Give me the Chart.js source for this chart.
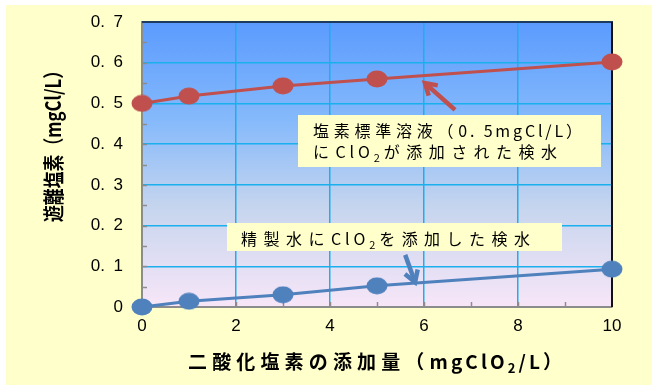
<!DOCTYPE html>
<html lang="ja">
<head>
<meta charset="utf-8">
<title>二酸化塩素の添加量と遊離塩素</title>
<script src="https://cdn.jsdelivr.net/npm/chart.js@4/dist/chart.umd.min.js"></script>
<style>
  html, body { margin: 0; padding: 0; background: #ffffff; }
  #wrap { width: 652px; height: 385px; position: relative; }
</style>
</head>
<body>
<div id="wrap"><canvas id="chart"></canvas></div>
<script>
// ClO2 dose (mgClO2/L)
const doseX = [0, 1, 3, 5, 10];
// Free chlorine measured in chlorine standard solution (0.5 mgCl/L)
const standardSeries = [0.5, 0.518, 0.543, 0.56, 0.602];
// Free chlorine measured in purified water
const pureSeries = [0, 0.014, 0.03, 0.052, 0.093];
// Axis tick labels
const yTickLabels = ['0', '0.\u20021', '0.\u20022', '0.\u20023', '0.\u20024', '0.\u20025', '0.\u20026', '0.\u20027'];
const xTickLabels = ['0', '2', '4', '6', '8', '10'];

const RED = '#C0504D';
const BLUE = '#4F81BD';
const JP = '"Noto Sans CJK JP", "Noto Sans", sans-serif';

// Elliptical marker used for both series
function ellipseMarker(color) {
  const c = document.createElement('canvas');
  c.width = 22; c.height = 18;
  const g = c.getContext('2d');
  g.fillStyle = color;
  g.beginPath();
  g.ellipse(11, 9, 10.5, 8.5, 0, 0, Math.PI * 2);
  g.fill();
  return c;
}

// Draws a run of text segments (with optional subscripts), stretched to a given width.
// Full-width characters take most of the extra spacing, Latin characters a smaller share.
function drawRich(ctx, segs, x, y, size, weight, targetWidth) {
  const chars = [];
  segs.forEach(s => {
    for (const ch of s.t) chars.push({ ch, sub: !!s.sub });
  });
  const fontFor = sub => `${weight} ${sub ? Math.round(size * 0.68) : size}px ${JP}`;
  let natural = 0, wsum = 0;
  chars.forEach((c, i) => {
    ctx.font = fontFor(c.sub);
    c.w = ctx.measureText(c.ch).width;
    natural += c.w;
    c.k = i === chars.length - 1 ? 0 : (c.ch.charCodeAt(0) > 0x2000 ? 1 : 0.6);
    wsum += c.k;
  });
  let sx = 1, gap = 0;
  if (natural > targetWidth) sx = targetWidth / natural;
  else if (wsum > 0) gap = (targetWidth - natural) / wsum;
  ctx.save();
  ctx.translate(x, y);
  ctx.scale(sx, 1);
  ctx.textBaseline = 'alphabetic';
  ctx.textAlign = 'left';
  ctx.fillStyle = '#000';
  let cx = 0;
  chars.forEach(c => {
    ctx.font = fontFor(c.sub);
    ctx.fillText(c.ch, cx, c.sub ? size * 0.22 : 0);
    cx += c.w + c.k * gap / sx;
  });
  ctx.restore();
}

function drawArrow(ctx, x1, y1, x2, y2, color) {
  const ang = Math.atan2(y2 - y1, x2 - x1);
  const head = 13;
  ctx.save();
  ctx.strokeStyle = color;
  ctx.lineWidth = 4.5;
  ctx.lineCap = 'butt';
  ctx.lineJoin = 'miter';
  ctx.beginPath();
  ctx.moveTo(x1, y1);
  ctx.lineTo(x2, y2);
  ctx.stroke();
  ctx.beginPath();
  ctx.moveTo(x2 - head * Math.cos(ang - 0.55), y2 - head * Math.sin(ang - 0.55));
  ctx.lineTo(x2, y2);
  ctx.lineTo(x2 - head * Math.cos(ang + 0.55), y2 - head * Math.sin(ang + 0.55));
  ctx.stroke();
  ctx.restore();
}

const decor = {
  id: 'decor',
  beforeDraw(chart) {
    const { ctx, chartArea: a } = chart;
    ctx.save();
    ctx.fillStyle = '#FFFFCC';
    ctx.fillRect(6, 5, 652 - 6, 385 - 5);
    const g = ctx.createLinearGradient(0, a.top, 0, a.bottom);
    g.addColorStop(0, '#5B9BFE');
    g.addColorStop(0.35, '#86BAFB');
    g.addColorStop(0.65, '#C6D5EE');
    g.addColorStop(1, '#F8E6F8');
    ctx.fillStyle = g;
    ctx.fillRect(a.left, a.top, a.right - a.left, a.bottom - a.top);
    ctx.restore();
  },
  beforeDatasetsDraw(chart) {
    const { ctx, chartArea: a, scales: { x, y } } = chart;
    ctx.save();
    // plot frame: top and right edges
    ctx.strokeStyle = '#1F3A60';
    ctx.lineWidth = 2;
    ctx.beginPath(); ctx.moveTo(a.left, a.top); ctx.lineTo(a.right + 1, a.top); ctx.stroke();
    ctx.strokeStyle = '#111111';
    ctx.beginPath(); ctx.moveTo(a.right, a.top); ctx.lineTo(a.right, a.bottom); ctx.stroke();
    // inner minor ticks
    ctx.strokeStyle = '#8C8C8C';
    ctx.lineWidth = 1.5;
    for (let v = 0.05; v < 0.7; v += 0.05) {
      const py = Math.round(y.getPixelForValue(v)) + 0.5;
      ctx.beginPath(); ctx.moveTo(a.left, py); ctx.lineTo(a.left + 5, py); ctx.stroke();
    }
    for (let v = 1; v < 10; v += 1) {
      const px = Math.round(x.getPixelForValue(v)) + 0.5;
      ctx.beginPath(); ctx.moveTo(px, a.bottom); ctx.lineTo(px, a.bottom - 5); ctx.stroke();
    }
    ctx.restore();
  },
  afterDraw(chart) {
    const { ctx, scales: { x, y } } = chart;
    // axis titles
    drawRich(ctx, [{ t: '二酸化塩素の添加量（mgClO' }, { t: '2', sub: true }, { t: '/L）' }],
      188, 369, 19, 'bold', 374);
    ctx.save();
    ctx.translate(61, 222);
    ctx.rotate(-Math.PI / 2);
    drawRich(ctx, [{ t: '遊離塩素（mgCl/L）' }], 0, 0, 21, 'bold', 160);
    ctx.restore();

    // callout boxes
    ctx.save();
    ctx.fillStyle = '#FFFFCC';
    ctx.fillRect(298, 115, 303, 52);
    ctx.fillRect(227, 223, 335, 28);
    ctx.restore();
    drawRich(ctx, [{ t: '塩素標準溶液（0. 5mgCl/L）' }], 313, 137, 16, 'normal', 269);
    drawRich(ctx, [{ t: 'にClO' }, { t: '2', sub: true }, { t: 'が添加された検水' }], 313, 158, 16, 'normal', 244);
    drawRich(ctx, [{ t: '精製水にClO' }, { t: '2', sub: true }, { t: 'を添加した検水' }], 241, 245, 16, 'normal', 289);

    drawArrow(ctx, x.getPixelForValue(6.66), y.getPixelForValue(0.484),
      x.getPixelForValue(6.02), y.getPixelForValue(0.55), RED);
    drawArrow(ctx, x.getPixelForValue(5.6), y.getPixelForValue(0.128),
      x.getPixelForValue(5.81), y.getPixelForValue(0.061), BLUE);
  }
};

const toPoints = ys => doseX.map((d, i) => ({ x: d, y: ys[i] }));

new Chart(document.getElementById('chart'), {
  type: 'scatter',
  data: {
    datasets: [
      {
        label: '塩素標準溶液（0.5mgCl/L）にClO2が添加された検水',
        data: toPoints(standardSeries),
        showLine: true,
        borderColor: RED,
        borderWidth: 3,
        pointStyle: ellipseMarker(RED),
        clip: false
      },
      {
        label: '精製水にClO2を添加した検水',
        data: toPoints(pureSeries),
        showLine: true,
        borderColor: BLUE,
        borderWidth: 3,
        pointStyle: ellipseMarker(BLUE),
        clip: false
      }
    ]
  },
  options: {
    responsive: true,
    maintainAspectRatio: false,
    animation: false,
    devicePixelRatio: 1,
    layout: { padding: { top: 22, right: 40, left: 0, bottom: 0 } },
    plugins: { legend: { display: false }, tooltip: { enabled: false } },
    scales: {
      x: {
        type: 'linear',
        min: 0, max: 10,
        afterFit(s) { s.height = 78; s.paddingLeft = 0; s.paddingRight = 0; },
        ticks: {
          stepSize: 2,
          padding: 9,
          color: '#000',
          font: { family: '"Liberation Sans", sans-serif', size: 17 },
          maxRotation: 0,
          callback: (v, i) => xTickLabels[i]
        },
        grid: {
          drawTicks: false,
          lineWidth: 1.5,
          color: c => (c.index === 0 || c.index === xTickLabels.length - 1) ? 'rgba(0,0,0,0)' : '#1AB0EE'
        },
        border: { color: '#8C8C8C', width: 2 }
      },
      y: {
        min: 0, max: 0.7,
        afterFit(s) { s.width = 142; s.paddingTop = 0; s.paddingBottom = 0; },
        ticks: {
          stepSize: 0.1,
          padding: 19,
          color: '#000',
          font: { family: '"Liberation Sans", sans-serif', size: 17 },
          callback: (v, i) => yTickLabels[i]
        },
        grid: {
          drawTicks: false,
          lineWidth: 1.5,
          color: c => (c.index === 0 || c.index === yTickLabels.length - 1) ? 'rgba(0,0,0,0)' : '#1AB0EE'
        },
        border: { color: '#8C8C8C', width: 2 }
      }
    }
  },
  plugins: [decor]
});
</script>
</body>
</html>
